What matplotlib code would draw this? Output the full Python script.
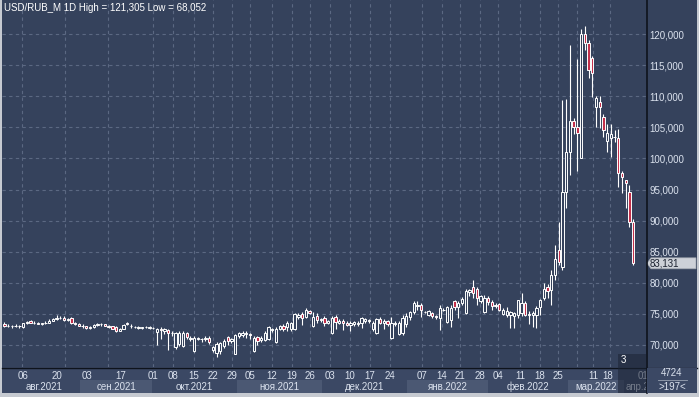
import matplotlib
matplotlib.use("Agg")
import matplotlib.pyplot as plt
from matplotlib.patches import Rectangle, Polygon
from matplotlib.transforms import blended_transform_factory, Bbox, TransformedBbox

plt.rcParams['font.family'] = ['Liberation Sans', 'DejaVu Sans']

# ---- data (USD/RUB_M daily candles) ----
opens = [
    73.3, 73.1, 73.0, 73.1, 73.0, 72.9, 73.5, 73.8, 73.6, 73.5,
    73.4, 73.5, 73.6, 73.9, 74.2, 74.4, 74.4, 74.0, 74.3, 73.5,
    73.3, 73.1, 73.0, 72.8, 72.9, 73.2, 73.4, 73.3, 73.1, 73.0,
    72.9, 72.3, 72.6, 73.5, 73.1, 72.9, 72.8, 72.8, 72.9, 72.8,
    72.7, 72.1, 72.6, 72.2, 72.4, 71.9, 69.6, 70.2, 69.8, 72.0,
    71.0, 69.0, 71.0, 70.9, 70.9, 71.2, 69.2, 68.7, 69.0, 69.8,
    71.3, 70.6, 68.6, 71.4, 71.6, 71.8, 71.7, 69.1, 71.3, 70.8,
    70.8, 71.0, 72.4, 70.4, 72.6, 73.1, 72.9, 72.6, 72.5, 74.5,
    75.0, 74.5, 75.5, 73.0, 74.6, 74.0, 74.3, 73.5, 72.0, 74.5,
    73.6, 73.9, 73.6, 73.2, 73.4, 73.3, 73.6, 73.9, 73.8, 72.5,
    72.0, 74.1, 73.5, 73.8, 71.2, 73.4, 71.8, 72.0, 73.4, 74.5,
    75.3, 76.2, 76.5, 75.3, 74.9, 75.1, 74.6, 74.4, 75.7, 73.7,
    74.0, 77.0, 76.1, 76.8, 75.1, 78.5, 79.3, 79.0, 77.0, 75.3,
    77.6, 76.9, 76.2, 76.6, 75.0, 74.8, 74.8, 74.6, 74.8, 75.2,
    76.8, 74.9, 74.8, 74.8, 76.1, 77.6, 79.3, 78.8, 81.3, 85.3,
    82.5, 94.6, 101.0, 106.0, 105.0, 100.1, 120.0, 118.5, 116.1, 108.3,
    109.1, 106.7, 102.8, 103.3, 103.4, 103.3, 97.7, 96.5, 94.6, 89.8,
]
highs = [
    73.7, 73.3, 73.2, 73.3, 73.2, 73.6, 73.8, 74.0, 73.8, 73.7,
    73.6, 73.8, 74.1, 74.4, 74.8, 74.6, 74.6, 74.3, 74.5, 73.7,
    73.5, 73.3, 73.1, 73.0, 73.3, 73.6, 73.5, 73.4, 73.2, 73.1,
    73.0, 72.8, 73.4, 73.7, 73.3, 73.1, 73.0, 72.9, 73.0, 73.0,
    72.9, 72.8, 72.9, 72.7, 72.6, 72.3, 72.1, 72.2, 72.2, 72.1,
    71.4, 71.5, 71.3, 71.2, 71.4, 71.5, 69.9, 70.4, 70.5, 70.9,
    71.5, 71.1, 71.8, 72.1, 72.3, 72.2, 71.9, 71.4, 71.5, 71.4,
    72.2, 73.0, 72.8, 72.9, 73.2, 73.3, 73.8, 73.7, 75.2, 75.1,
    75.3, 76.0, 75.7, 75.3, 75.1, 74.4, 74.6, 74.0, 74.6, 74.9,
    74.1, 74.2, 73.8, 73.9, 73.9, 73.8, 74.5, 74.4, 74.2, 73.8,
    74.4, 74.5, 74.1, 74.0, 74.5, 73.8, 73.8, 74.8, 75.1, 75.5,
    77.1, 77.0, 76.8, 75.5, 75.6, 75.3, 74.9, 76.4, 76.0, 76.3,
    76.5, 77.2, 77.0, 77.7, 79.0, 79.0, 80.4, 79.4, 78.1, 78.1,
    77.9, 77.2, 76.8, 76.8, 75.9, 76.1, 75.5, 75.3, 77.3, 78.4,
    77.0, 75.4, 75.5, 76.2, 77.4, 80.0, 79.8, 82.0, 86.0, 89.8,
    109.4, 109.5, 118.2, 106.5, 116.0, 120.8, 121.305, 119.0, 116.5, 110.0,
    110.0, 107.1, 105.5, 105.6, 104.6, 104.7, 98.0, 96.6, 95.8, 90.2,
]
lows = [
    72.9, 72.9, 72.8, 72.9, 72.8, 72.8, 73.3, 73.5, 73.4, 73.3,
    73.2, 73.3, 73.5, 73.8, 74.0, 74.1, 73.9, 73.9, 73.4, 73.2,
    73.0, 72.8, 72.6, 72.6, 72.8, 73.1, 73.1, 73.0, 72.8, 72.5,
    72.1, 72.2, 72.5, 73.2, 72.8, 72.7, 72.6, 72.6, 72.7, 72.6,
    72.5, 70.0, 71.0, 71.8, 69.2, 71.4, 69.4, 69.9, 69.6, 71.0,
    70.6, 68.9, 70.8, 70.5, 70.6, 70.1, 68.9, 68.052, 68.6, 69.5,
    70.0, 70.3, 68.5, 71.2, 71.3, 71.2, 71.0, 68.9, 70.0, 70.5,
    70.6, 70.8, 72.1, 70.3, 72.4, 72.2, 72.3, 72.3, 72.4, 74.1,
    73.2, 74.4, 75.0, 72.9, 73.6, 73.7, 73.1, 73.3, 71.8, 72.6,
    73.3, 72.4, 73.0, 72.3, 73.1, 73.0, 72.8, 73.6, 73.5, 72.3,
    71.8, 73.3, 72.5, 73.0, 71.0, 73.1, 71.6, 71.6, 72.9, 74.0,
    75.0, 75.6, 74.5, 75.1, 74.7, 74.3, 74.2, 72.4, 75.4, 73.5,
    72.9, 75.6, 74.3, 76.4, 75.0, 77.8, 77.6, 76.4, 76.7, 75.2,
    76.4, 75.6, 75.9, 75.4, 74.8, 74.5, 72.7, 72.8, 74.3, 74.6,
    74.6, 73.4, 72.9, 72.8, 74.9, 77.3, 77.6, 76.5, 80.5, 82.8,
    82.0, 92.0, 97.3, 104.0, 98.0, 100.0, 117.5, 112.9, 109.9, 105.0,
    104.9, 103.4, 101.0, 100.2, 102.6, 95.4, 94.5, 92.0, 89.0, 82.9,
]
closes = [
    73.1, 73.0, 73.1, 73.0, 73.1, 73.5, 73.7, 73.6, 73.5, 73.4,
    73.5, 73.6, 73.9, 74.2, 74.4, 74.3, 74.0, 74.1, 73.5, 73.3,
    73.1, 73.0, 72.8, 72.9, 73.2, 73.4, 73.3, 73.1, 72.9, 72.6,
    72.2, 72.6, 73.2, 73.3, 73.0, 72.9, 72.8, 72.8, 72.9, 72.8,
    72.7, 72.6, 72.4, 72.6, 71.9, 72.0, 71.9, 72.0, 72.0, 71.3,
    71.2, 71.2, 71.1, 71.0, 71.2, 70.4, 69.6, 70.2, 70.3, 70.6,
    70.6, 70.9, 71.6, 71.9, 71.9, 71.8, 71.6, 71.1, 70.7, 71.2,
    72.0, 72.9, 72.6, 72.6, 73.0, 72.5, 73.6, 73.5, 75.0, 74.9,
    74.4, 75.6, 75.1, 74.5, 74.0, 74.2, 73.5, 73.8, 74.3, 73.7,
    73.9, 73.5, 73.2, 73.6, 73.7, 73.6, 74.3, 74.2, 74.0, 73.6,
    74.2, 73.6, 73.9, 73.4, 73.5, 73.6, 73.6, 74.3, 74.6, 75.3,
    76.8, 76.5, 75.6, 75.3, 75.4, 74.6, 74.5, 76.0, 75.6, 76.1,
    76.0, 76.1, 76.8, 77.4, 78.7, 78.8, 78.4, 77.6, 77.9, 77.6,
    76.9, 76.3, 76.5, 75.7, 75.6, 75.5, 75.3, 75.1, 77.2, 76.8,
    74.9, 75.0, 75.2, 76.0, 77.2, 79.0, 78.6, 81.3, 83.8, 83.4,
    94.6, 101.0, 106.0, 105.0, 104.1, 120.0, 118.5, 114.2, 113.7, 109.7,
    108.3, 104.6, 104.1, 104.0, 103.5, 97.7, 97.0, 96.0, 89.8, 83.131,
]

# date labels (positions given as candle index)
day_labels = ['06', '20', '03', '17', '01', '08', '15', '22', '29', '05', '12', '19', '26',
              '03', '10', '17', '24', '07', '14', '21', '28', '04', '11', '18', '25',
              '11', '18', '01']
day_idx = [5, 14.1, 22.2, 31.3, 39.9, 45.3, 50.9, 56.0, 61.2, 66.0, 71.9, 77.3, 82.1,
           87.5, 92.9, 98.3, 103.6, 112.2, 117.6, 122.4, 127.8, 132.7, 138.6, 144.0, 148.8,
           158.2, 162.2, 171.6]
grid_idx = [4.7, 16.3, 27.8, 39.9, 45.3, 50.9, 56.0, 61.2, 66.0, 71.9, 77.3, 82.1, 87.5,
            92.9, 98.3, 103.6, 112.2, 117.6, 122.4, 127.8, 132.7, 138.6, 144.0, 148.8,
            153.9, 158.2, 162.8]
month_labels = ['', 'авг.2021', 'сен.2021', 'окт.2021', 'ноя.2021', 'дек.2021',
                'янв.2022', 'фев.2022', 'мар.2022', 'апр.2022']
month_start = [-0.67, 0.94, 20.3, 39.7, 62.5, 85.3, 108.2, 130.0, 151.5, 166.6]
x_end = 172.45
y_ticks = [70, 75, 80, 85, 90, 95, 100, 105, 110, 115, 120]
y_range = (66.46, 125.47)
last_price = closes[-1]
title = 'USD/RUB_M 1D High = 121,305 Low = 68,052'

# ---- style ----
BG = '#35425c'
GRID = '#5b6882'
RED = '#c3304b'
TXT = '#dbe2ee'
STRIP = '#3b4864'
BAND_A = '#3b4864'
BAND_B = '#4b5873'
FRAME = '#c6cad1'
DARK = '#0e131c'

W, H = 699, 397
fig = plt.figure(figsize=(W / 100, H / 100), dpi=100)
fig.patch.set_facecolor(FRAME)

def fx(p):
    return p / W

def fy(p):  # pixel from top -> figure fraction
    return 1 - p / H

fig.add_artist(Rectangle((fx(2), fy(393)), fx(695), 393 / H, transform=fig.transFigure,
                         facecolor=BG, edgecolor='none', zorder=-5))
fig.add_artist(Rectangle((fx(2), fy(393)), fx(695), 26 / H, transform=fig.transFigure,
                         facecolor=STRIP, edgecolor='none', zorder=-4))

ax = fig.add_axes([fx(2), fy(367), fx(644), 367 / H])
ax.set_facecolor(BG)
ax.set_xlim(-0.67, x_end)
ax.set_ylim(*y_range)
for s in ax.spines.values():
    s.set_visible(False)

# grid
for g in grid_idx:
    ax.axvline(g, color=GRID, lw=0.8, ls=(0, (3, 3)), zorder=1)
for t in y_ticks:
    ax.axhline(t, color=GRID, lw=0.8, ls=(0, (3, 3)), zorder=1)

# candles
xs = list(range(len(opens)))
bottoms = [min(o, c) for o, c in zip(opens, closes)]
heights = [max(abs(c - o), 0.07) for o, c in zip(opens, closes)]
faces = [BG if c >= o else RED for o, c in zip(opens, closes)]
ax.vlines(xs, lows, highs, color='white', lw=0.8, zorder=2)
ax.bar(xs, heights, width=0.62, bottom=bottoms, color=faces, edgecolor='white',
       linewidth=0.7, zorder=3)

# axes ticks
ax.yaxis.tick_right()
ax.set_yticks(y_ticks, [f'{v:.3f}'.replace('.', ',') for v in y_ticks])
ax.tick_params(axis='y', length=0, pad=2.5, labelsize=7, labelcolor=TXT)
ax.set_xticks(day_idx, day_labels)
ax.tick_params(axis='x', length=0, pad=2.6, labelsize=7, labelcolor=TXT)

# month bands (text clipped at the price-axis edge, like the terminal does)
bt = blended_transform_factory(ax.transData, fig.transFigure)
clip = TransformedBbox(Bbox([[0, 0], [fx(646), 1]]), fig.transFigure)
bounds = month_start + [x_end]
last = len(month_labels) - 1
for k, name in enumerate(month_labels):
    a, b = bounds[k], bounds[k + 1]
    ax.add_patch(Rectangle((a, fy(393)), b - a, 13 / H, transform=bt,
                           facecolor=BAND_B if k % 2 == 0 and k > 0 else BAND_A,
                           edgecolor='none', clip_on=False, zorder=-1))
    if name:
        t = ax.text(a + 0.4 if k == last else (a + b) / 2, fy(387), name, transform=bt,
                    ha='left' if k == last else 'center', va='center', fontsize=7, color=TXT)
        t.set_clip_box(clip)
        t.set_clip_on(True)

# separators
fig.add_artist(plt.Line2D([fx(646.5)] * 2, [fy(393), 1], transform=fig.transFigure,
                          color=DARK, lw=1.2, zorder=8))
fig.add_artist(plt.Line2D([fx(2), fx(697)], [fy(367.5)] * 2, transform=fig.transFigure,
                          color=DARK, lw=1.0, zorder=8))

# scroll overlay + right-bottom box
fig.add_artist(Rectangle((fx(618), fy(393)), fx(28), 39 / H, transform=fig.transFigure,
                         facecolor='#1c2435', alpha=0.55, edgecolor='none', zorder=9))
fig.text(fx(623), fy(360), '3', fontsize=7, color='white', ha='center', va='center', zorder=10)
fig.add_artist(Rectangle((fx(647), fy(393)), fx(50), 25.5 / H, transform=fig.transFigure,
                         facecolor=STRIP, edgecolor='none', zorder=9))
fig.add_artist(plt.Line2D([fx(658), fx(687)], [fy(380)] * 2, transform=fig.transFigure,
                          color='#9aa3b3', lw=0.6, zorder=10))
fig.text(fx(672), fy(373.5), '4724', fontsize=7, color=TXT, ha='center', va='center', zorder=10)
fig.text(fx(672), fy(386.5), '>197<', fontsize=7, color=TXT, ha='center', va='center', zorder=10)

# last price marker
px_per_unit = 367 / (y_range[1] - y_range[0])
hh = 5.5 / px_per_unit
pt = blended_transform_factory(fig.transFigure, ax.transData)
ax.add_patch(Polygon([(fx(647), last_price), (fx(651), last_price + hh),
                      (fx(696), last_price + hh), (fx(696), last_price - hh),
                      (fx(651), last_price - hh)], closed=True, transform=pt,
                     facecolor='#cdd1d8', edgecolor='#9ea4ae', lw=0.5, clip_on=False, zorder=6))
ax.text(fx(650), last_price, f'{last_price:.3f}'.replace('.', ','), transform=pt,
        fontsize=7, color='#1b2230', ha='left', va='center', clip_on=False, zorder=7)

fig.text(fx(4), fy(8), title, fontsize=7, color='white', ha='left', va='center')

fig.savefig('out.png', dpi=100, facecolor=FRAME)
